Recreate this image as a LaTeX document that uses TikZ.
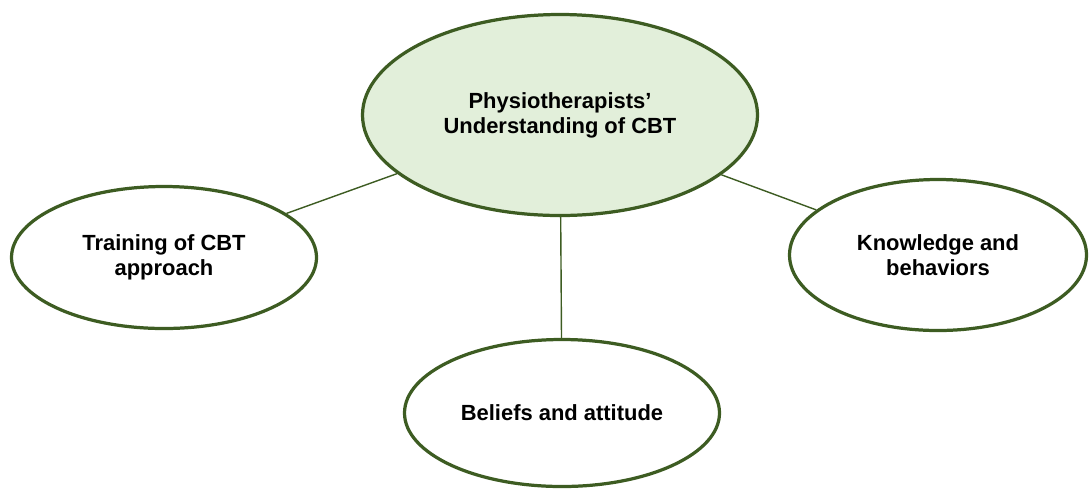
\documentclass[tikz,border=0pt]{standalone}
\usepackage{fontspec}
\setmainfont{Liberation Sans}
\usepackage{xcolor}
\usepackage{tikz}
\usetikzlibrary{shapes.geometric}

\definecolor{bordoverde}{HTML}{3D5C22}
\definecolor{fondoverde}{HTML}{E2EFDA}

\begin{document}
\begin{tikzpicture}[>=latex]

% Stili per ellissi e collegamenti
\tikzset{tema/.style={ellipse, draw=bordoverde, line width=2.3pt, inner sep=0pt, align=center,
    font=\fontsize{15.6}{17.8}\selectfont\bfseries},
  legame/.style={draw=bordoverde, line width=1pt}}

% Area del disegno
\useasboundingbox (0,0) rectangle (27.225,-12.225);

% --- Ellisse centrale ---
\node[tema, fill=fondoverde, minimum width=9.875cm, minimum height=5.025cm] (centro) at (14.0,-2.875)
  {Physiotherapists'\\Understanding of CBT};

% --- Ellissi laterali e in basso ---
\node[tema, fill=white, minimum width=7.625cm, minimum height=3.55cm] (formazione) at (4.1,-6.4375)
  {Training of CBT\\approach};
\node[tema, fill=white, minimum width=7.425cm, minimum height=3.775cm] (conoscenze) at (23.45,-6.375)
  {Knowledge and\\behaviors};
\node[tema, fill=white, minimum width=7.875cm, minimum height=3.675cm] (credenze) at (14.05,-10.325)
  {Beliefs and attitude};

% Collegamenti
\path[legame] (centro) -- (formazione);
\path[legame] (centro) -- (conoscenze);
\path[legame] (centro) -- (credenze);

\end{tikzpicture}
\end{document}
